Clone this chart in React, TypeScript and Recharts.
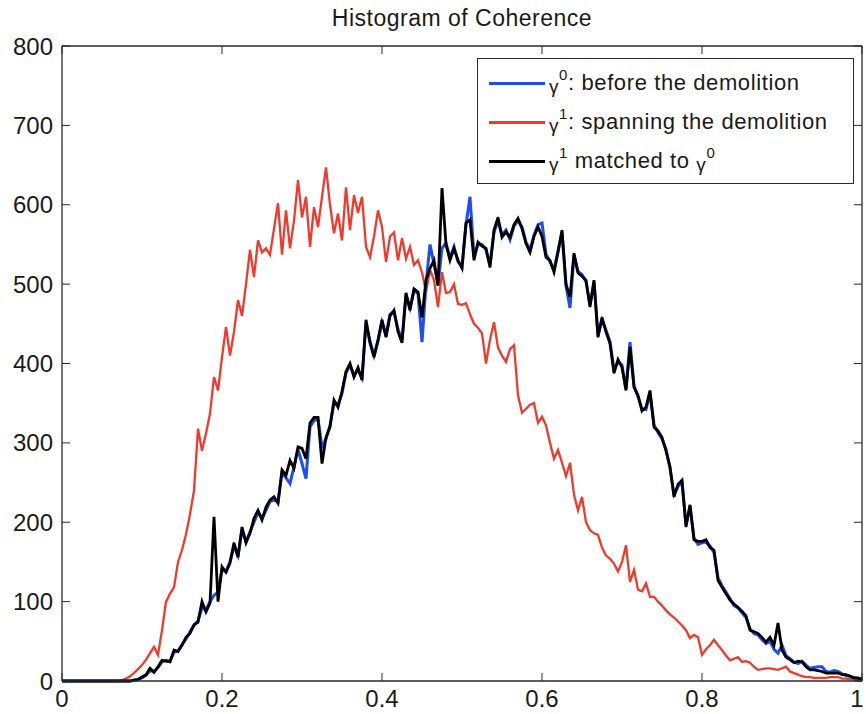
import React from 'react';
import { LineChart, Line, XAxis, YAxis, ReferenceLine, Legend } from 'recharts';

// Histogram bin centres: 201 bins across coherence 0..1
const BIN_STEP = 0.005;
const binCentres: number[] = Array.from({ length: 201 }, (_, i) => Number((i * BIN_STEP).toFixed(3)));

// γ1: interferogram spanning the demolition (counts per bin)
const spanningCounts: number[] = [
  0, 0, 0, 0, 0, 0, 0, 0, 0, 0,
  0, 0, 0, 0, 0, 1, 3, 6, 10, 15,
  20, 27, 35, 43, 33, 64, 100, 110, 118, 150,
  165, 185, 210, 240, 318, 290, 312, 337, 383, 366,
  408, 446, 410, 440, 480, 460, 500, 543, 509, 555,
  540, 545, 537, 570, 602, 537, 593, 545, 580, 631,
  584, 610, 547, 597, 572, 610, 647, 600, 564, 589,
  555, 622, 568, 612, 590, 610, 547, 534, 560, 593,
  572, 528, 560, 565, 530, 558, 532, 547, 524, 530,
  515, 490, 518, 505, 471, 515, 489, 490, 500, 475,
  474, 476, 462, 450, 445, 438, 400, 430, 452, 420,
  410, 402, 418, 423, 360, 338, 343, 348, 350, 325,
  333, 322, 300, 280, 291, 275, 258, 275, 235, 215,
  232, 200, 190, 186, 184, 168, 158, 154, 148, 138,
  150, 171, 125, 140, 115, 113, 123, 106, 106, 100,
  95, 89, 84, 80, 75, 70, 64, 54, 58, 55,
  33, 40, 45, 52, 45, 39, 32, 26, 28, 30,
  24, 25, 23, 18, 14, 15, 16, 16, 15, 14,
  16, 18, 12, 10, 8, 6, 5, 5, 4, 4,
  4, 4, 5, 5, 5, 3, 3, 2, 2, 1,
  0,
];

// γ0: interferogram before the demolition
const beforeCounts: number[] = [
  0, 0, 0, 0, 0, 0, 0, 0, 0, 0,
  0, 0, 0, 0, 0, 0, 0, 0, 1, 2,
  4, 7, 13, 12, 17, 24, 26, 25, 36, 38,
  46, 53, 62, 70, 76, 92, 90, 100, 108, 112,
  140, 138, 150, 170, 158, 190, 176, 188, 200, 212,
  205, 215, 226, 228, 226, 262, 256, 249, 270, 292,
  274, 255, 320, 328, 330, 295, 305, 322, 350, 348,
  362, 388, 398, 385, 392, 382, 450, 428, 410, 428,
  452, 436, 462, 465, 443, 430, 486, 470, 492, 488,
  427, 500, 550, 525, 500, 545, 552, 533, 547, 528,
  522, 575, 610, 535, 550, 550, 543, 525, 565, 580,
  562, 568, 556, 573, 580, 572, 553, 543, 562, 575,
  577, 538, 528, 518, 542, 565, 498, 470, 536, 516,
  512, 503, 474, 503, 436, 455, 442, 428, 392, 402,
  398, 368, 427, 372, 358, 343, 342, 362, 323, 313,
  305, 292, 268, 235, 245, 250, 197, 220, 180, 172,
  174, 175, 170, 162, 130, 120, 112, 104, 95, 92,
  86, 80, 66, 60, 58, 52, 47, 50, 40, 35,
  45, 32, 28, 24, 22, 25, 20, 16, 17, 18,
  18, 12, 11, 13, 12, 9, 7, 6, 4, 3,
  1,
];

// γ1 after histogram matching to γ0
const matchedCounts: number[] = [
  0, 0, 0, 0, 0, 0, 0, 0, 0, 0,
  0, 0, 0, 0, 0, 0, 0, 0, 1, 2,
  5, 8, 16, 11, 18, 26, 25, 24, 39, 37,
  45, 55, 60, 71, 74, 100, 87, 98, 207, 100,
  144, 137, 149, 174, 156, 194, 174, 186, 205, 215,
  203, 219, 228, 232, 224, 266, 259, 278, 268, 295,
  293, 280, 325, 332, 332, 274, 307, 320, 354, 345,
  365, 390, 400, 383, 395, 379, 455, 426, 408, 430,
  455, 433, 460, 467, 440, 426, 489, 467, 494, 490,
  458, 505, 520, 530, 498, 621, 550, 530, 545, 530,
  520, 577, 581, 530, 553, 548, 545, 521, 568, 584,
  559, 566, 559, 575, 583, 570, 551, 540, 560, 572,
  560, 534, 530, 515, 540, 568, 500, 484, 539, 514,
  510, 505, 471, 505, 433, 458, 440, 425, 388, 405,
  395, 366, 421, 370, 360, 340, 345, 366, 320, 315,
  307, 290, 270, 232, 248, 253, 194, 222, 178, 176,
  176, 178, 168, 165, 127, 118, 110, 102, 97, 93,
  88, 82, 64, 62, 60, 55, 49, 55, 45, 73,
  39, 30, 27, 23, 25, 24, 18, 14, 14, 13,
  12, 10, 10, 10, 10, 8, 8, 6, 4, 4,
  2,
];

const X_TICKS = [0, 0.2, 0.4, 0.6, 0.8, 1];
const X_TICK_LABELS = ['0', '0.2', '0.4', '0.6', '0.8', '1'];
const Y_TICKS = [0, 100, 200, 300, 400, 500, 600, 700, 800];
const Y_TICK_LABELS = ['0', '100', '200', '300', '400', '500', '600', '700', '800'];

const TITLE = 'Histogram of Coherence';

const RED = '#ef3a2d';
const BLUE = '#1d4ef5';
const BLACK = '#000000';
const AXIS = '#2a2a2a';
const TEXT = '#1a1a1a';
const FONT = '"Liberation Sans", Arial, Helvetica, sans-serif';

const W = 866;
const H = 714;
const MARGIN = { top: 46, right: 4, bottom: 0, left: 0 };
const Y_AXIS_W = 62;
const X_AXIS_H = 33;
const PLOT_W = W - MARGIN.left - MARGIN.right - Y_AXIS_W;
const PLOT_H = H - MARGIN.top - MARGIN.bottom - X_AXIS_H;
const TICK_LEN = 8;

const rows = binCentres.map((x, i) => ({
  x,
  spanning: spanningCounts[i],
  before: beforeCounts[i],
  matched: matchedCounts[i],
}));

type LegendRow = { key: string; color: string; parts: { t: string; sup?: boolean }[] };
const LEGEND_ROWS: LegendRow[] = [
  { key: 'before', color: BLUE, parts: [{ t: 'γ' }, { t: '0', sup: true }, { t: ': before the demolition' }] },
  { key: 'spanning', color: RED, parts: [{ t: 'γ' }, { t: '1', sup: true }, { t: ': spanning the demolition' }] },
  { key: 'matched', color: BLACK, parts: [{ t: 'γ' }, { t: '1', sup: true }, { t: ' matched to ' }, { t: 'γ' }, { t: '0', sup: true }] },
];

// Bottom ticks point inward, with mirrored ticks along the top edge
const renderXTick = (props: any) => {
  const { x, y, payload } = props;
  const idx = X_TICKS.indexOf(payload.value);
  const label = idx >= 0 ? X_TICK_LABELS[idx] : String(payload.value);
  // the last label sits against the right edge of the figure; nudge it inside
  const labelX = idx === X_TICKS.length - 1 ? x - 5 : x;
  return (
    <g>
      <line x1={x} x2={x} y1={y} y2={y - TICK_LEN} stroke={AXIS} strokeWidth={1} />
      <line x1={x} x2={x} y1={y - PLOT_H} y2={y - PLOT_H + TICK_LEN} stroke={AXIS} strokeWidth={1} />
      <text x={labelX} y={y + 17} textAnchor="middle" dominantBaseline="central" fill={TEXT} fontSize={24} fontFamily={FONT}>
        {label}
      </text>
    </g>
  );
};

// Left ticks point inward, with mirrored ticks along the right edge
const renderYTick = (props: any) => {
  const { x, y, payload } = props;
  const idx = Y_TICKS.indexOf(payload.value);
  const label = idx >= 0 ? Y_TICK_LABELS[idx] : String(payload.value);
  return (
    <g>
      <line x1={x} x2={x + TICK_LEN} y1={y} y2={y} stroke={AXIS} strokeWidth={1} />
      <line x1={x + PLOT_W} x2={x + PLOT_W - TICK_LEN} y1={y} y2={y} stroke={AXIS} strokeWidth={1} />
      <text x={x - 9} y={y} textAnchor="end" dominantBaseline="central" fill={TEXT} fontSize={24} fontFamily={FONT}>
        {label}
      </text>
    </g>
  );
};

const LegendBox = () => (
  <div
    style={{
      boxSizing: 'border-box',
      width: '100%',
      height: '100%',
      border: `1px solid ${AXIS}`,
      background: '#fff',
      paddingTop: 5,
      fontFamily: FONT,
      fontSize: 22,
      color: TEXT,
      letterSpacing: 0.6,
    }}
  >
    {LEGEND_ROWS.map((row) => (
      <div key={row.key} style={{ display: 'flex', alignItems: 'center', height: 39, lineHeight: '39px', whiteSpace: 'nowrap' }}>
        <div style={{ marginLeft: 11, width: 56, height: 3, background: row.color, flex: 'none' }} />
        <div style={{ marginLeft: 4 }}>
          {row.parts.map((p, i) =>
            p.sup ? (
              <span key={i} style={{ fontSize: 15, position: 'relative', top: -10 }}>
                {p.t}
              </span>
            ) : (
              <span key={i} style={p.t === 'γ' ? { fontSize: 19, position: 'relative', top: 3 } : undefined}>
                {p.t}
              </span>
            )
          )}
        </div>
      </div>
    ))}
  </div>
);

export default function App() {
  return (
    <div style={{ position: 'absolute', left: 0, top: 0, width: W, height: H, background: '#fff', overflow: 'hidden' }}>
      <div
        style={{
          position: 'absolute',
          left: MARGIN.left + Y_AXIS_W,
          width: PLOT_W,
          top: 4,
          textAlign: 'center',
          fontFamily: FONT,
          fontSize: 23,
          letterSpacing: 0.5,
          color: TEXT,
          lineHeight: '28px',
        }}
      >
        {TITLE}
      </div>
      <LineChart width={W} height={H} data={rows} margin={MARGIN}>
        <XAxis
          dataKey="x"
          type="number"
          domain={[0, 1]}
          ticks={X_TICKS}
          height={X_AXIS_H}
          tickSize={0}
          tickMargin={0}
          tickLine={false}
          tick={renderXTick}
          axisLine={{ stroke: AXIS, strokeWidth: 1.3 }}
          interval={0}
        />
        <YAxis
          type="number"
          domain={[0, 800]}
          ticks={Y_TICKS}
          width={Y_AXIS_W}
          tickSize={0}
          tickMargin={0}
          tickLine={false}
          tick={renderYTick}
          axisLine={{ stroke: AXIS, strokeWidth: 1.3 }}
          interval={0}
        />
        <ReferenceLine y={800} stroke={AXIS} strokeWidth={1.3} />
        <ReferenceLine x={1} stroke={AXIS} strokeWidth={1.3} />
        <Line dataKey="spanning" type="linear" stroke={RED} strokeWidth={2.3} dot={false} isAnimationActive={false} />
        <Line dataKey="before" type="linear" stroke={BLUE} strokeWidth={3} dot={false} isAnimationActive={false} />
        <Line dataKey="matched" type="linear" stroke={BLACK} strokeWidth={2.8} dot={false} isAnimationActive={false} />
        <Legend
          layout="vertical"
          align="center"
          verticalAlign="middle"
          content={LegendBox}
          wrapperStyle={{ top: 58, left: 477, width: 377, height: 126 }}
        />
      </LineChart>
    </div>
  );
}
